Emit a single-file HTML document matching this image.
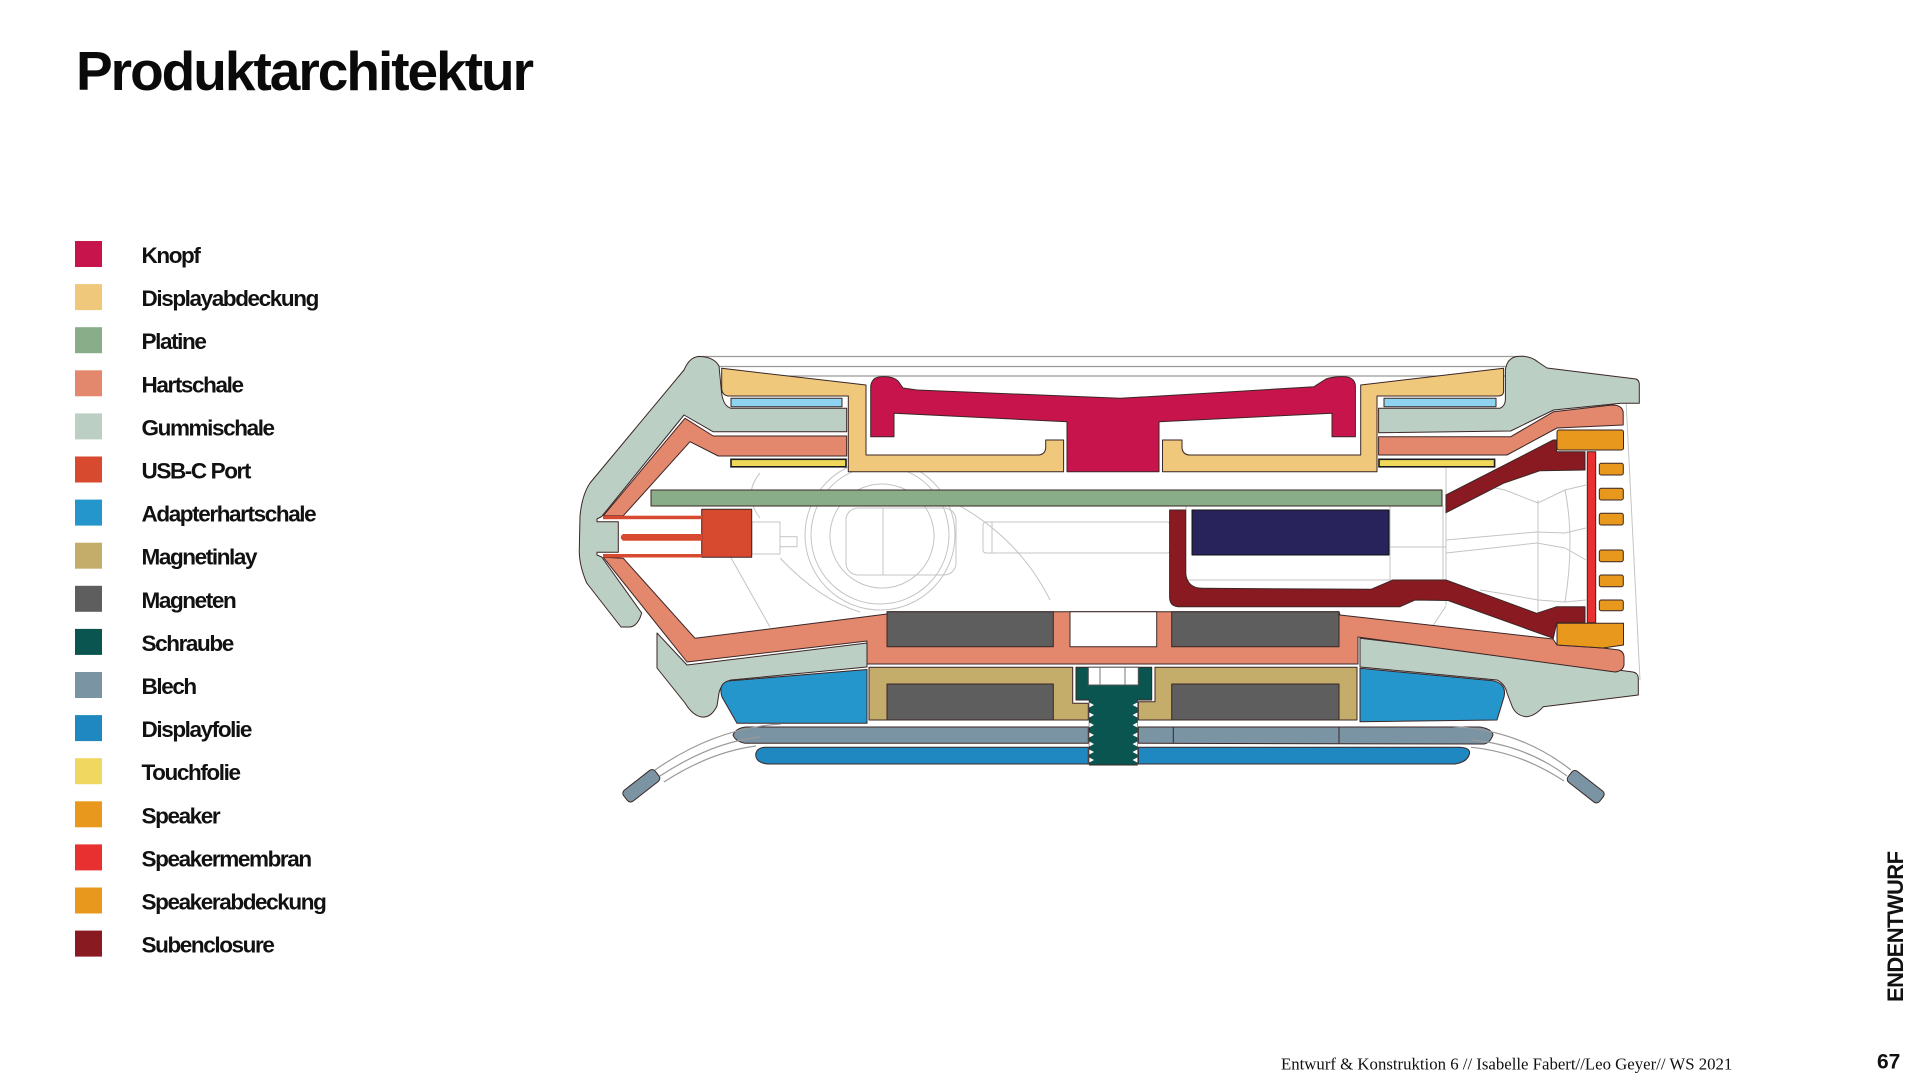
<!DOCTYPE html>
<html>
<head>
<meta charset="utf-8">
<style>
html,body{margin:0;padding:0;background:#fff;}
body{width:1920px;height:1083px;overflow:hidden;position:relative;}
svg{position:absolute;left:0;top:0;}
</style>
</head>
<body>
<svg width="1920" height="1083" viewBox="0 0 1920 1083" xmlns="http://www.w3.org/2000/svg">
  <!-- Title -->
  <text x="76" y="90" font-family="Liberation Sans, sans-serif" font-weight="bold" font-size="55" letter-spacing="-2" fill="#0a0a0a">Produktarchitektur</text>

  <!-- Legend -->
  <g font-family="Liberation Sans, sans-serif" font-weight="bold" font-size="22.5" letter-spacing="-1.4" fill="#111">
    <rect x="75" y="241" width="27" height="26" fill="#c8144c"/><text x="141.5" y="263">Knopf</text>
    <rect x="75" y="284.1" width="27" height="26" fill="#f0c87c"/><text x="141.5" y="306.1">Displayabdeckung</text>
    <rect x="75" y="327.2" width="27" height="26" fill="#88ad88"/><text x="141.5" y="349.2">Platine</text>
    <rect x="75" y="370.3" width="27" height="26" fill="#e3886c"/><text x="141.5" y="392.3">Hartschale</text>
    <rect x="75" y="413.4" width="27" height="26" fill="#bccfc4"/><text x="141.5" y="435.4">Gummischale</text>
    <rect x="75" y="456.5" width="27" height="26" fill="#d84a30"/><text x="141.5" y="478.5">USB-C Port</text>
    <rect x="75" y="499.6" width="27" height="26" fill="#2596cc"/><text x="141.5" y="521.6">Adapterhartschale</text>
    <rect x="75" y="542.7" width="27" height="26" fill="#c4ac6a"/><text x="141.5" y="564.7">Magnetinlay</text>
    <rect x="75" y="585.8" width="27" height="26" fill="#5e5e5e"/><text x="141.5" y="607.8">Magneten</text>
    <rect x="75" y="628.9" width="27" height="26" fill="#0b5550"/><text x="141.5" y="650.9">Schraube</text>
    <rect x="75" y="672" width="27" height="26" fill="#7a94a4"/><text x="141.5" y="694">Blech</text>
    <rect x="75" y="715.1" width="27" height="26" fill="#2088c0"/><text x="141.5" y="737.1">Displayfolie</text>
    <rect x="75" y="758.2" width="27" height="26" fill="#f0d860"/><text x="141.5" y="780.2">Touchfolie</text>
    <rect x="75" y="801.3" width="27" height="26" fill="#e8981c"/><text x="141.5" y="823.3">Speaker</text>
    <rect x="75" y="844.4" width="27" height="26" fill="#e83030"/><text x="141.5" y="866.4">Speakermembran</text>
    <rect x="75" y="887.5" width="27" height="26" fill="#e8981c"/><text x="141.5" y="909.5">Speakerabdeckung</text>
    <rect x="75" y="930.6" width="27" height="26" fill="#8a1a22"/><text x="141.5" y="952.6">Subenclosure</text>
  </g>

  <!-- Footer -->
  <text x="1281" y="1069.3" font-family="Liberation Serif, serif" font-size="16.8" fill="#111">Entwurf &amp; Konstruktion 6 // Isabelle Fabert//Leo Geyer// WS 2021</text>
  <text x="1877" y="1068.3" font-family="Liberation Sans, sans-serif" font-weight="bold" font-size="21" fill="#111">67</text>
  <text transform="translate(1903,1002) rotate(-90)" font-family="Liberation Sans, sans-serif" font-weight="bold" font-size="22" letter-spacing="-0.6" fill="#111">ENDENTWURF</text>

  <!-- ===== Diagram ===== -->
  <!-- top lines -->
  <g stroke="#9a9a9a" stroke-width="1.2" fill="none">
    <line x1="697" y1="356.5" x2="1525" y2="356.5"/>
    <line x1="716" y1="366.5" x2="1512" y2="366.5"/>
    <line x1="722" y1="376" x2="1505" y2="376"/>
  </g>

  <!-- line art -->
  <g stroke="#c4c4c4" stroke-width="1" fill="none">
    <circle cx="880" cy="535" r="75"/>
    <circle cx="880" cy="535" r="69"/>
    <circle cx="882" cy="536" r="52"/>
    <rect x="846" y="508" width="110" height="67" rx="12"/>
    <line x1="883" y1="508" x2="883" y2="575"/>
    <rect x="752" y="522" width="28" height="32"/>
    <rect x="780" y="536.7" width="17" height="10"/>
    <rect x="983" y="522" width="187" height="31" rx="3"/>
    <line x1="992" y1="522" x2="992" y2="553"/>
    <path d="M760 473 Q 742 495 760 518"/>
    <path d="M730 556 L 770 627"/>
    <path d="M780 558 Q 820 600 860 612"/>
    <path d="M960 506 Q 1020 540 1050 600"/>
    <rect x="1186" y="506" width="257" height="74"/>
    <line x1="1390" y1="506" x2="1390" y2="580"/>
    <line x1="1390" y1="547" x2="1446" y2="547"/>
    <line x1="1446" y1="468" x2="1446" y2="605"/>
    <polyline points="1446,540 1537,532 1565,533 1586,528"/>
    <polyline points="1446,553 1537,543 1565,548 1586,560"/>
    <line x1="1538" y1="500" x2="1538" y2="613"/>
    <polyline points="1480,485 1505,490 1538,503 1565,490 1586,485"/>
    <polyline points="1480,590 1505,594 1538,600 1565,602 1586,600"/>
    <path d="M1565 490 Q 1575 540 1565 602"/>
    <path d="M1446 606 L 1430 630"/>
    <line x1="1626" y1="400" x2="1640" y2="680"/>
  </g>

  <g stroke="#3b2626" stroke-width="1" stroke-linejoin="round">
    <!-- Gummischale upper-left -->
    <path fill="#bccfc4" d="M684 370 Q 690 356 700 356.5 Q 714 357 719 366 L 721.5 392 Q 723 406 731 408.3 L 846.7 408.3 L 846.7 431.7 L 713 431.7 L 684 415 L 601.7 516.5 L 597 519 L 597 521.7 L 618.3 521.7 L 618.3 552.3 L 597 552.3 L 597 555 L 601.7 557 L 641.7 613 Q 638 626 630 627 L 621 627 L 586.7 583 Q 579 565 579.3 550 L 580 516 Q 582 495 590 483 Z"/>
    <!-- Gummischale lower-left -->
    <path fill="#bccfc4" d="M657 633 L 687 665 L 867 643 L 867 667 L 731 680 Q 721 683 719 693 L 717 706 Q 711 718 702 717 Q 693 716 685 703 L 657 668 Z"/>
    <!-- Gummischale upper-right -->
    <path fill="#bccfc4" d="M1378.6 408.3 L 1500 408.3 Q 1505 406 1505.4 400 L 1505.4 370 Q 1507 358 1517 356.5 Q 1530 355 1538 362 L 1547 368 L 1636 379 Q 1639 380 1639.3 384 L 1639.3 403.3 L 1621 403.3 L 1553.6 410 L 1510.7 431 L 1378.6 432.7 Z"/>
    <!-- Gummischale lower-right -->
    <path fill="#bccfc4" d="M1360 638.3 L 1516.7 656.7 L 1633 672 Q 1638 673 1638.3 678 L 1638.3 695 L 1543.3 706.7 Q 1535 716 1526.7 716.7 Q 1516 716 1512 706 L 1507 693 Q 1505 684 1497 680 L 1360 667 Z"/>

    <!-- Hartschale -->
    <path fill="#e3886c" d="M846.7 436 L 713.3 436 L 685 418.3 L 603.3 515.7 L 623.3 515.7 L 690 441.7 L 718.3 456 L 846.7 456 Z"/>
    <path fill="#e3886c" d="M1378.6 436.7 L 1510.7 436.7 L 1553.6 411.7 L 1612 405 Q 1622 405 1623.2 412 L 1623.2 425 L 1557 428 L 1507 455 L 1378.6 455 Z"/>
    <path fill="#e3886c" d="M603.3 557.3 L 623.3 558.3 L 695 638.3 L 887 614 L 887 611.7 L 1339 611.7 L 1340 615 L 1553 639 L 1557 645 L 1603 648 L 1619 650 Q 1624 652 1624 657 L 1624 665 Q 1623 671 1615 672 L 1358 637 L 1358 664 L 867 664 L 867 641 L 687 662 Z"/>

    <!-- Displayabdeckung -->
    <path fill="#f0c87c" d="M721.7 368.3 L 866 385 L 866 455 L 1039 455 Q 1045.7 454 1045.7 447 L 1045.7 440 L 1063.6 440 L 1063.6 471.7 L 848.3 471.7 L 848.3 396 L 728 396 Q 722 395 721.7 389 Z"/>
    <path fill="#f0c87c" d="M1162.5 440 L 1182 440 L 1182 448 Q 1183 455 1190 455 L 1360.7 455 L 1360.7 385 L 1503.6 368.3 L 1503.6 392 Q 1503 396 1498 396 L 1377 396 L 1377 471.7 L 1162.5 471.7 Z"/>

    <!-- Knopf -->
    <path fill="#c8144c" d="M870.7 436.7 L 870.7 386 Q 872 377 881 376.7 Q 893 376 898 381 L 903 388 L 917 390 L 1120 398.3 L 1207 393.3 L 1314 386.7 L 1326 379 Q 1334 376 1346 376.7 Q 1355 378 1355.4 386 L 1355.4 436.7 L 1332 436.7 L 1332 413.3 L 1159 421.7 L 1159 471.7 L 1067 471.7 L 1067 421.7 L 894 413.3 L 894 436.7 Z"/>

    <!-- light blue strips -->
    <rect x="731" y="398.3" width="111" height="8.4" fill="#8ed4f0"/>
    <rect x="1384" y="398.3" width="112" height="8.4" fill="#8ed4f0"/>
  </g>

  <!-- Touchfolie -->
  <rect x="731" y="459.3" width="115" height="7.5" fill="#f0d858" stroke="#1a1a1a" stroke-width="1.6"/>
  <rect x="1379" y="459.3" width="115.6" height="7.5" fill="#f0d858" stroke="#1a1a1a" stroke-width="1.6"/>

  <g stroke="#3b2626" stroke-width="1" stroke-linejoin="round">
    <!-- Platine -->
    <rect x="651" y="490" width="791" height="16" fill="#88ad88"/>
    <!-- USB-C -->
    <rect x="701.7" y="509.3" width="50" height="48" fill="#d84a30"/>
    <rect x="603" y="515.7" width="99" height="3.5" fill="#d84a30" stroke="none"/>
    <rect x="603" y="554" width="99" height="3.5" fill="#d84a30" stroke="none"/>
    <path fill="#d84a30" stroke="none" d="M702 534 L 623 534 Q 618.5 537.3 623 540.7 L 702 540.7 Z"/>
    <!-- Battery -->
    <rect x="1192" y="510" width="197" height="45" fill="#28235a" stroke="#111"/>
    <!-- Subenclosure -->
    <path fill="#8a1a22" d="M1446 495 L 1553.3 440 L 1556.7 440 L 1556.7 451.7 L 1585 451.7 L 1585 470 L 1540 470.7 L 1503.3 483.3 L 1446 512.7 Z"/>
    <path fill="#8a1a22" d="M1169.6 510 L 1185.7 510 L 1185.7 573 Q 1187 588 1202 588.3 L 1371 589.3 L 1393 580 L 1446 580 L 1536.7 613.3 L 1556.7 606.7 L 1585 606.7 L 1585 622.7 L 1556.7 622.7 L 1553.3 638.3 L 1448 600.5 L 1415 600 L 1400 606.7 L 1178 606.7 Q 1169.6 606 1169.6 597 Z"/>
    <!-- Speaker -->
    <rect x="1557" y="430" width="66.5" height="20" rx="2" fill="#e8981c"/>
    <path fill="#e8981c" d="M1557 623.3 L 1623.5 623.3 L 1623.5 645 L 1603 648 L 1557 645 Z"/>
    <rect x="1587.3" y="451.7" width="8.4" height="171" fill="#e83030"/>
    <rect x="1599.3" y="463.3" width="24" height="11.7" rx="2" fill="#e8981c"/>
    <rect x="1599.3" y="488.3" width="24" height="11.7" rx="2" fill="#e8981c"/>
    <rect x="1599.3" y="513.3" width="24" height="11.7" rx="2" fill="#e8981c"/>
    <rect x="1599.3" y="550" width="24" height="11.7" rx="2" fill="#e8981c"/>
    <rect x="1599.3" y="575" width="24" height="11.7" rx="2" fill="#e8981c"/>
    <rect x="1599.3" y="600" width="24" height="10.7" rx="2" fill="#e8981c"/>

    <!-- Magnets upper -->
    <rect x="887" y="611.7" width="166.3" height="35" fill="#5e5e5e"/>
    <rect x="1171.7" y="611.7" width="167.3" height="35" fill="#5e5e5e"/>
    <rect x="1070" y="611.7" width="86.7" height="35" fill="#fff"/>

    <!-- Adapterhartschale -->
    <path fill="#2596cc" d="M728 681 L 867 669.5 L 867 723.3 L 737 723.3 L 722 697 Q 718 684 728 681 Z"/>
    <path fill="#2596cc" d="M1360 668.3 L 1493 680.7 Q 1507 684 1504 697 L 1497 720 L 1360 721.7 Z"/>

    <!-- Magnetinlay -->
    <path fill="#c4ac6a" d="M869 667.3 L 1072.7 667.3 L 1072.7 703.3 L 1088.3 703.3 L 1088.3 720 L 869 720 Z"/>
    <path fill="#c4ac6a" d="M1155 667.3 L 1357 667.3 L 1357 720 L 1138.3 720 L 1138.3 701.7 L 1155 701.7 Z"/>
    <rect x="887" y="684" width="166.3" height="36" fill="#5e5e5e"/>
    <rect x="1171.7" y="684" width="167.3" height="36" fill="#5e5e5e"/>

    <!-- Blech -->
    <path fill="#7a94a4" d="M746 727 L 1088.3 727 L 1088.3 743.3 L 745 743.3 Q 735 741 733 735 Q 736 728 746 727 Z"/>
    <path fill="#7a94a4" d="M1138.3 727 L 1480 727 Q 1492 729 1493 735 Q 1490 743 1484 744 L 1138.3 743.3 Z"/>
    <line x1="1173.3" y1="727" x2="1173.3" y2="743.3"/>
    <line x1="1339" y1="727" x2="1339" y2="743.3"/>

    <!-- Displayfolie -->
    <path fill="#2088c0" d="M765 747.3 L 1088.3 747.3 L 1088.3 764 L 768 764 Q 756 763 755.7 755 Q 756 748 765 747.3 Z"/>
    <path fill="#2088c0" d="M1138.3 747.3 L 1460 747.3 Q 1470 748 1469.6 753 Q 1468 762 1455 764 L 1138.3 764 Z"/>

    <!-- Schraube -->
    <path fill="#0b5550" d="M1076 667.3 L 1151.7 667.3 L 1151.7 700 L 1137.3 700 L 1137.3 765 L 1089.3 765 L 1089.3 700 L 1076 700 Z"/>
    <rect x="1088.3" y="667.3" width="50" height="17.7" fill="#fff" stroke="#555"/>
    <line x1="1100" y1="667.3" x2="1100" y2="685" stroke="#777"/>
    <line x1="1125" y1="667.3" x2="1125" y2="685" stroke="#777"/>
  </g>

  <!-- screw serrations -->
  <g fill="#fff">
    <polygon points="1089.3,702.5 1094,705 1089.3,707.5"/>
    <polygon points="1089.3,712.5 1094,715 1089.3,717.5"/>
    <polygon points="1089.3,722.5 1094,725 1089.3,727.5"/>
    <polygon points="1089.3,732.5 1094,735 1089.3,737.5"/>
    <polygon points="1089.3,741.5 1094,744 1089.3,746.5"/>
    <polygon points="1089.3,749.5 1094,752 1089.3,754.5"/>
    <polygon points="1089.3,757.5 1094,760 1089.3,762.5"/>
    <polygon points="1137.3,702.5 1132.6,705 1137.3,707.5"/>
    <polygon points="1137.3,712.5 1132.6,715 1137.3,717.5"/>
    <polygon points="1137.3,722.5 1132.6,725 1137.3,727.5"/>
    <polygon points="1137.3,732.5 1132.6,735 1137.3,737.5"/>
    <polygon points="1137.3,741.5 1132.6,744 1137.3,746.5"/>
    <polygon points="1137.3,749.5 1132.6,752 1137.3,754.5"/>
    <polygon points="1137.3,757.5 1132.6,760 1137.3,762.5"/>
  </g>

  <!-- straps -->
  <g stroke="#9a9a9a" stroke-width="1.2" fill="none">
    <path d="M781 724 Q 715 728 655 770"/>
    <path d="M760 737 Q 712 742 660 776"/>
    <path d="M756 746 Q 710 752 664 782"/>
    <path d="M1453 726.5 Q 1520 730 1571 770"/>
    <path d="M1472 740 Q 1525 745 1567 776"/>
    <path d="M1471 747.3 Q 1520 752 1564 781"/>
  </g>
  <!-- tabs -->
  <rect x="-20" y="-7" width="40" height="14" rx="4" fill="#7a94a4" stroke="#3b2626" stroke-width="1" transform="translate(641.3,785.8) rotate(-38)"/>
  <rect x="-20" y="-7" width="40" height="14" rx="4" fill="#7a94a4" stroke="#3b2626" stroke-width="1" transform="translate(1585.7,786.7) rotate(38)"/>
</svg>
</body>
</html>
